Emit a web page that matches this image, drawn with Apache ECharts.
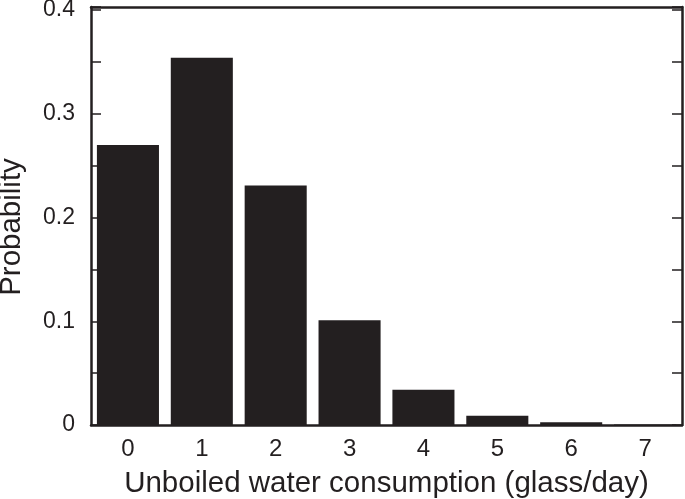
<!DOCTYPE html>
<html>
<head>
<meta charset="utf-8">
<script src="https://cdn.jsdelivr.net/npm/echarts@6/dist/echarts.min.js"></script>
<style>html,body{margin:0;padding:0;background:#fff;}#c{width:685px;height:499px;}</style>
</head>
<body>
<div id="c"></div>
<script>
var categories = ['0', '1', '2', '3', '4', '5', '6', '7'];
var probability = [0.270, 0.354, 0.231, 0.101, 0.034, 0.009, 0.0026, 0.0005];
var yTicks = [0, 0.1, 0.2, 0.3, 0.4];
var yMax = 0.403;
var xTitle = 'Unboiled water consumption (glass/day)';
var yTitle = 'Probability';

var ink = '#231f20';
var font = 'Liberation Sans';
var chart = echarts.init(document.getElementById('c'));
var lineStyle = {color: ink, width: 2.5};
var tickStyle = {color: ink, width: 1.5};
function yFmt(v) {
  for (var i = 0; i < yTicks.length; i++) {
    if (Math.abs(v - yTicks[i]) < 1e-9) return yTicks[i] === 0 ? '0' : yTicks[i].toFixed(1);
  }
  return '';
}
chart.setOption({
  animation: false,
  backgroundColor: '#fff',
  grid: {left: 91, right: 3, top: 7, bottom: 74, containLabel: false, outerBoundsMode: 'none'},
  xAxis: [{
    type: 'category', data: categories, position: 'bottom',
    boundaryGap: true,
    name: xTitle, nameLocation: 'middle', nameGap: 44,
    nameTextStyle: {fontFamily: font, fontSize: 29.5, color: ink},
    axisLine: {onZero: false, lineStyle: lineStyle},
    axisTick: {inside: true, length: 9, lineStyle: tickStyle},
    axisLabel: {fontFamily: font, fontSize: 24, color: ink, margin: 12},
    splitLine: {show: false}
  }, {
    type: 'category', data: categories, position: 'top',
    boundaryGap: true,
    axisLine: {onZero: false, lineStyle: lineStyle},
    axisTick: {inside: true, length: 9, lineStyle: tickStyle},
    axisLabel: {show: false},
    splitLine: {show: false}
  }],
  yAxis: [{
    type: 'value', min: yTicks[0], max: yMax, interval: 0.1, position: 'left',
    name: yTitle, nameLocation: 'middle', nameGap: 64, nameRotate: 90,
    nameTextStyle: {fontFamily: font, fontSize: 29.5, color: ink, padding: [0, 22, 0, 0]},
    axisLine: {show: true, onZero: false, lineStyle: lineStyle},
    axisTick: {show: true, inside: true, length: 10, lineStyle: tickStyle},
    minorTick: {show: true, splitNumber: 2, length: 10, lineStyle: tickStyle},
    axisLabel: {fontFamily: font, fontSize: 23, color: ink, margin: 16, padding: [5, 0, 0, 0],
      formatter: yFmt},
    splitLine: {show: false}
  }, {
    type: 'value', min: yTicks[0], max: yMax, interval: 0.1, position: 'right',
    axisLine: {show: true, onZero: false, lineStyle: lineStyle},
    axisTick: {show: true, inside: true, length: 10, lineStyle: tickStyle},
    minorTick: {show: true, splitNumber: 2, length: 10, lineStyle: tickStyle},
    axisLabel: {show: false},
    splitLine: {show: false}
  }],
  series: [{
    type: 'bar', data: probability, xAxisIndex: 0, yAxisIndex: 0,
    barWidth: '84%',
    itemStyle: {color: ink}
  }]
});
</script>
</body>
</html>
